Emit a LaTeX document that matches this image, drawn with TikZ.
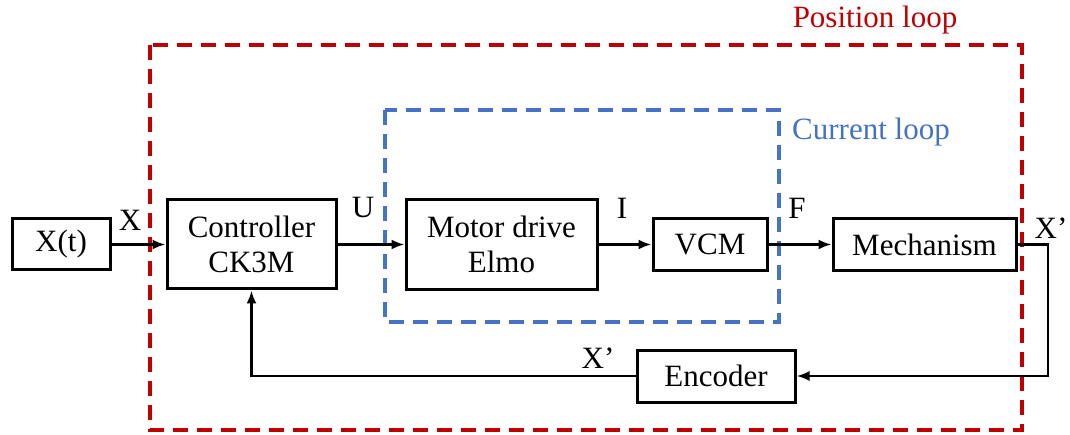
\documentclass[tikz,border=0pt]{standalone}
\usepackage{fontspec}
\setmainfont{Liberation Serif}
\usetikzlibrary{arrows.meta,calc}
\definecolor{posred}{HTML}{C00000}
\definecolor{curblue}{HTML}{4472C4}
\begin{document}
\begin{tikzpicture}[x=1pt,y=-1pt,
  blk/.style={draw,line width=3pt,inner sep=0pt,align=center,font=\fontsize{31}{35}\selectfont},
  lbl/.style={inner sep=0pt,font=\fontsize{31}{35}\selectfont},
  sig/.style={line width=2.5pt,-{Latex[length=13pt,width=10pt]}},
  loopbox/.style={line width=3.5pt,dash pattern=on 15pt off 9pt}]
\useasboundingbox (0,0) rectangle (1070,435);
% loops
\draw[loopbox,posred] (150,45) rectangle (1022,430);
\draw[loopbox,curblue] (385,110) rectangle (779,322);
\node[lbl,text=posred] (poslbl) at (875,20) {Position loop};
\node[lbl,text=curblue] (curlbl) at (871,132) {Current loop};
% blocks
\node[blk,minimum width=98pt,minimum height=51pt] (xt) at (61,244.5) {X(t)};
\node[blk,minimum width=169pt,minimum height=89pt] (ctrl) at (251.5,244.5) {Controller\\CK3M};
\node[blk,minimum width=191pt,minimum height=90pt] (motor) at (501.5,244.5) {Motor drive\\Elmo};
\node[blk,minimum width=114pt,minimum height=52pt] (vcm) at (710,244.5) {VCM};
\node[blk,minimum width=183pt,minimum height=52pt] (mech) at (924.5,244.5) {Mechanism};
\node[blk,minimum width=158pt,minimum height=52pt] (enc) at (716,376) {Encoder};
\coordinate (corner) at (1048,244.5);
% signals
\draw[sig] (xt.east) -- (ctrl.west);
\draw[sig] (ctrl.east) -- (motor.west);
\draw[sig] (motor.east |- vcm.west) -- (vcm.west);
\draw[sig] (vcm.east) -- (mech.west);
\draw[sig] (mech.east) -- (corner) |- (enc.east);
\draw[sig] (enc.west) -| (ctrl.south);
% labels
\node[lbl] (lx) at (130,220) {X};
\node[lbl] (lu) at (363,208) {U};
\node[lbl] (li) at (622,208) {I};
\node[lbl] (lf) at (797,208) {F};
\node[lbl] (lxp) at (1051,228) {X’};
\node[lbl] (lxf) at (598,358) {X’};
\end{tikzpicture}
\end{document}
